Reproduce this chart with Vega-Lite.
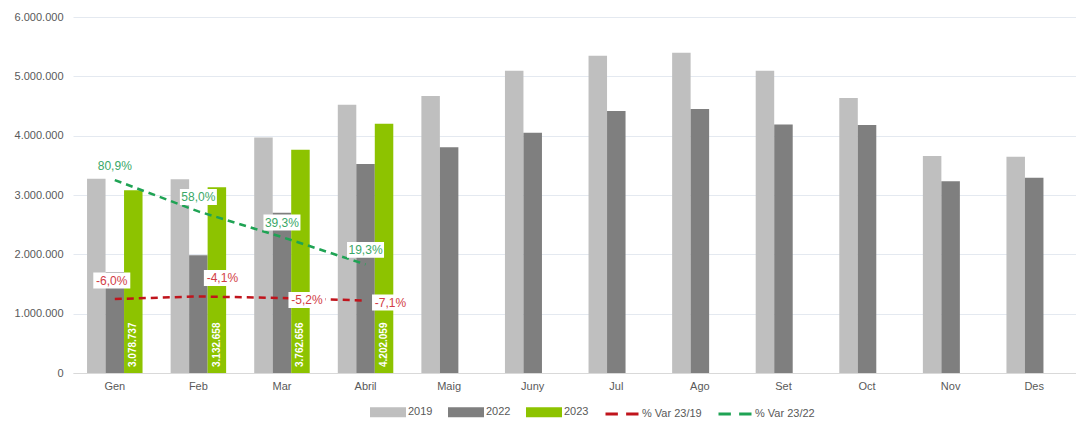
{
  "$schema": "https://vega.github.io/schema/vega-lite/v6.json",
  "width": 1003,
  "height": 356,
  "autosize": {"type": "none"},
  "padding": {"left": 73, "top": 17, "right": 0, "bottom": 49},
  "background": "white",
  "config": {
    "font": "Liberation Sans",
    "locale": {"number": {"decimal": ",", "thousands": ".", "grouping": [3], "currency": ["", " €"], "minus": "-"}},
    "view": {"stroke": null}
  },
  "data": {
    "values": [
      {"month": "Gen", "series": "2019", "value": 3275000},
      {"month": "Feb", "series": "2019", "value": 3266000},
      {"month": "Mar", "series": "2019", "value": 3969000},
      {"month": "Abril", "series": "2019", "value": 4523000},
      {"month": "Maig", "series": "2019", "value": 4669000},
      {"month": "Juny", "series": "2019", "value": 5095000},
      {"month": "Jul", "series": "2019", "value": 5348000},
      {"month": "Ago", "series": "2019", "value": 5399000},
      {"month": "Set", "series": "2019", "value": 5095000},
      {"month": "Oct", "series": "2019", "value": 4635000},
      {"month": "Nov", "series": "2019", "value": 3657000},
      {"month": "Des", "series": "2019", "value": 3646000},
      {"month": "Gen", "series": "2022", "value": 1702000},
      {"month": "Feb", "series": "2022", "value": 1983000},
      {"month": "Mar", "series": "2022", "value": 2701000},
      {"month": "Abril", "series": "2022", "value": 3522000},
      {"month": "Maig", "series": "2022", "value": 3804000},
      {"month": "Juny", "series": "2022", "value": 4050000},
      {"month": "Jul", "series": "2022", "value": 4416000},
      {"month": "Ago", "series": "2022", "value": 4450000},
      {"month": "Set", "series": "2022", "value": 4190000},
      {"month": "Oct", "series": "2022", "value": 4180000},
      {"month": "Nov", "series": "2022", "value": 3231000},
      {"month": "Des", "series": "2022", "value": 3292000},
      {"month": "Gen", "series": "2023", "value": 3078737},
      {"month": "Feb", "series": "2023", "value": 3132658},
      {"month": "Mar", "series": "2023", "value": 3762656},
      {"month": "Abril", "series": "2023", "value": 4202059},
      {"month": "Gen", "series": "% Var 23/19", "pct": -0.06},
      {"month": "Feb", "series": "% Var 23/19", "pct": -0.041},
      {"month": "Mar", "series": "% Var 23/19", "pct": -0.052},
      {"month": "Abril", "series": "% Var 23/19", "pct": -0.071},
      {"month": "Gen", "series": "% Var 23/22", "pct": 0.809},
      {"month": "Feb", "series": "% Var 23/22", "pct": 0.58},
      {"month": "Mar", "series": "% Var 23/22", "pct": 0.393},
      {"month": "Abril", "series": "% Var 23/22", "pct": 0.193}
    ]
  },
  "encoding": {
    "x": {
      "field": "month",
      "type": "nominal",
      "sort": null,
      "scale": {
        "domain": ["Gen", "Feb", "Mar", "Abril", "Maig", "Juny", "Jul", "Ago", "Set", "Oct", "Nov", "Des"],
        "paddingInner": 0.336,
        "paddingOuter": 0.168
      },
      "axis": {
        "title": null,
        "labelAngle": 0,
        "ticks": false,
        "grid": false,
        "domainColor": "#d9d9d9",
        "labelColor": "#595959",
        "labelFontSize": 11,
        "labelPadding": 7
      }
    }
  },
  "layer": [
    {
      "transform": [{"filter": {"field": "series", "oneOf": ["2019", "2022", "2023"]}}],
      "mark": {"type": "bar"},
      "encoding": {
        "xOffset": {
          "field": "series",
          "type": "nominal",
          "scale": {"domain": ["2019", "2022", "2023"], "paddingInner": 0, "paddingOuter": 0}
        },
        "y": {
          "field": "value",
          "type": "quantitative",
          "scale": {"domain": [0, 6000000]},
          "axis": {
            "title": null,
            "values": [0, 1000000, 2000000, 3000000, 4000000, 5000000, 6000000],
            "format": ",d",
            "domain": false,
            "ticks": false,
            "gridColor": "#e4e9f0",
            "labelColor": "#595959",
            "labelFontSize": 11,
            "labelPadding": 10
          }
        },
        "color": {
          "field": "series",
          "type": "nominal",
          "scale": {
            "domain": ["2019", "2022", "2023", "% Var 23/19", "% Var 23/22"],
            "range": ["#bfbfbf", "#7f7f7f", "#8dc300", "#c0141c", "#1fa354"]
          },
          "legend": {
            "title": null,
            "orient": "none",
            "legendX": 297,
            "legendY": 377,
            "direction": "horizontal",
            "labelFontSize": 11,
            "labelColor": "#595959",
            "labelOffset": 2,
            "columnPadding": 10,
            "symbolSize": 1089,
            "symbolStrokeWidth": 3,
            "symbolType": "M-1,-0.21H1V0.21H-1Z",
            "encode": {
              "symbols": {
                "update": {
                  "shape": {"signal": "indexof(datum.label,'%')===0 ? 'M-1,0H-0.25M0.25,0H1' : 'M-1,-0.21H1V0.21H-1Z'"},
                  "fill": {"signal": "datum.label==='2019' ? '#bfbfbf' : datum.label==='2022' ? '#7f7f7f' : datum.label==='2023' ? '#8dc300' : 'transparent'"},
                  "stroke": {"signal": "datum.label==='% Var 23/19' ? '#c0141c' : datum.label==='% Var 23/22' ? '#1fa354' : 'transparent'"},
                  "strokeWidth": {"value": 3},
                  "opacity": {"value": 1}
                }
              }
            }
          }
        }
      }
    },
    {
      "transform": [{"filter": {"field": "series", "equal": "2023"}}],
      "mark": {"type": "text", "angle": 270, "align": "left", "baseline": "middle", "xOffset": 18.5, "yOffset": -6, "fill": "white", "fontWeight": "bold", "fontSize": 10},
      "encoding": {
        "y": {"datum": 0, "type": "quantitative", "scale": {"domain": [0, 6000000]}, "axis": null},
        "text": {"field": "value", "type": "quantitative", "format": ",d"}
      }
    },
    {
      "transform": [{"filter": {"field": "series", "oneOf": ["% Var 23/19", "% Var 23/22"]}}],
      "mark": {"type": "line", "strokeDash": [7, 5], "strokeWidth": 2.5},
      "encoding": {
        "y": {"field": "pct", "type": "quantitative", "scale": {"domain": [-0.6, 2]}, "axis": null},
        "color": {"field": "series", "type": "nominal"}
      }
    },
    {
      "transform": [{"filter": {"field": "series", "equal": "% Var 23/22"}}],
      "mark": {"type": "point", "shape": "M-1,-0.43H1V0.43H-1Z", "size": 1369, "filled": true, "fill": "white", "opacity": 1, "strokeWidth": 0, "yOffset": -14.5},
      "encoding": {"y": {"field": "pct", "type": "quantitative", "scale": {"domain": [-0.6, 2]}, "axis": null}}
    },
    {
      "transform": [{"filter": {"field": "series", "equal": "% Var 23/22"}}],
      "mark": {"type": "text", "fontSize": 12, "color": "#3aa868", "baseline": "middle", "yOffset": -14.5},
      "encoding": {
        "y": {"field": "pct", "type": "quantitative", "scale": {"domain": [-0.6, 2]}, "axis": null},
        "text": {"field": "pct", "type": "quantitative", "format": ".1%"}
      }
    },
    {
      "transform": [{"filter": {"and": [{"field": "series", "equal": "% Var 23/19"}, {"field": "month", "equal": "Gen"}]}}],
      "mark": {"type": "point", "shape": "M-1,-0.43H1V0.43H-1Z", "size": 1369, "filled": true, "fill": "white", "opacity": 1, "strokeWidth": 0, "xOffset": -3, "yOffset": -18.5},
      "encoding": {"y": {"field": "pct", "type": "quantitative", "scale": {"domain": [-0.6, 2]}, "axis": null}}
    },
    {
      "transform": [{"filter": {"and": [{"field": "series", "equal": "% Var 23/19"}, {"field": "month", "equal": "Gen"}]}}],
      "mark": {"type": "text", "fontSize": 12, "color": "#d23c46", "baseline": "middle", "xOffset": -3, "yOffset": -18.5},
      "encoding": {
        "y": {"field": "pct", "type": "quantitative", "scale": {"domain": [-0.6, 2]}, "axis": null},
        "text": {"field": "pct", "type": "quantitative", "format": ".1%"}
      }
    },
    {
      "transform": [{"filter": {"and": [{"field": "series", "equal": "% Var 23/19"}, {"field": "month", "equal": "Feb"}]}}],
      "mark": {"type": "point", "shape": "M-1,-0.43H1V0.43H-1Z", "size": 1369, "filled": true, "fill": "white", "opacity": 1, "strokeWidth": 0, "xOffset": 24, "yOffset": -18.5},
      "encoding": {"y": {"field": "pct", "type": "quantitative", "scale": {"domain": [-0.6, 2]}, "axis": null}}
    },
    {
      "transform": [{"filter": {"and": [{"field": "series", "equal": "% Var 23/19"}, {"field": "month", "equal": "Feb"}]}}],
      "mark": {"type": "text", "fontSize": 12, "color": "#d23c46", "baseline": "middle", "xOffset": 24, "yOffset": -18.5},
      "encoding": {
        "y": {"field": "pct", "type": "quantitative", "scale": {"domain": [-0.6, 2]}, "axis": null},
        "text": {"field": "pct", "type": "quantitative", "format": ".1%"}
      }
    },
    {
      "transform": [{"filter": {"and": [{"field": "series", "equal": "% Var 23/19"}, {"field": "month", "oneOf": ["Mar", "Abril"]}]}}],
      "mark": {"type": "point", "shape": "M-1,-0.43H1V0.43H-1Z", "size": 1369, "filled": true, "fill": "white", "opacity": 1, "strokeWidth": 0, "xOffset": 25, "yOffset": 2},
      "encoding": {"y": {"field": "pct", "type": "quantitative", "scale": {"domain": [-0.6, 2]}, "axis": null}}
    },
    {
      "transform": [{"filter": {"and": [{"field": "series", "equal": "% Var 23/19"}, {"field": "month", "oneOf": ["Mar", "Abril"]}]}}],
      "mark": {"type": "text", "fontSize": 12, "color": "#d23c46", "baseline": "middle", "xOffset": 25, "yOffset": 2},
      "encoding": {
        "y": {"field": "pct", "type": "quantitative", "scale": {"domain": [-0.6, 2]}, "axis": null},
        "text": {"field": "pct", "type": "quantitative", "format": ".1%"}
      }
    }
  ],
  "resolve": {"scale": {"y": "independent"}}
}
